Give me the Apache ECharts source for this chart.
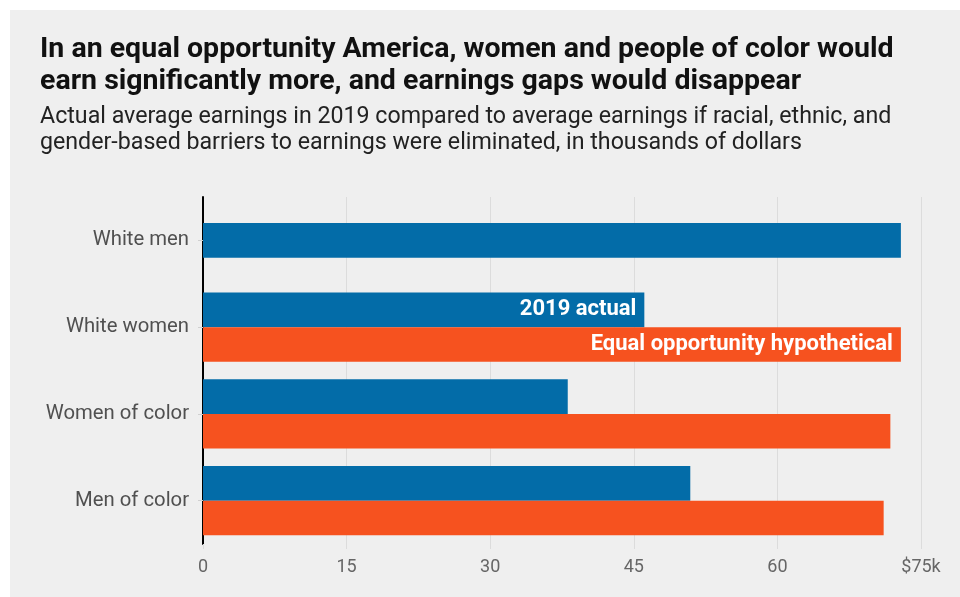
<!DOCTYPE html>
<html>
<head>
<meta charset="utf-8">
<script src="https://cdn.jsdelivr.net/npm/echarts@6/dist/echarts.min.js"></script>
<style>
  html, body { margin: 0; padding: 0; background: #ffffff; overflow: hidden; }
  #chart { position: absolute; left: 10px; top: 10px; width: 950px; height: 587px; background: #efefef; }
</style>
</head>
<body>
<div id="chart"></div>
<script>
// Average earnings, thousands of dollars
const categories = ['White men', 'White women', 'Women of color', 'Men of color'];
const actual2019 = [72.9, 46.1, 38.1, 50.9];
const equalOpportunity = [null, 72.9, 71.8, 71.1];
const xTicks = [0, 15, 30, 45, 60, 75];

const BLUE = '#036ca8';
const ORANGE = '#f6521f';
const FONT = 'Roboto, "Noto Sans", sans-serif';

// Groups without a hypothetical value get one centred bar on an overlay axis
const pairedActual = actual2019.map((v, i) => equalOpportunity[i] == null ? null : v);
const singleActual = actual2019.map((v, i) => equalOpportunity[i] == null ? v : null);
const labelIndex = 1; // in-bar legend labels sit on the White women pair

const chart = echarts.init(document.getElementById('chart'));

function withLabel(values, text) {
  return values.map((v, i) => {
    if (i !== labelIndex || v == null) return v;
    return {
      value: v,
      label: {
        show: true, position: 'insideRight', distance: 8,
        formatter: text, color: '#ffffff', fontFamily: FONT,
        fontWeight: 'bold', fontSize: 22
      }
    };
  });
}

chart.setOption({
  animation: false,
  title: [
    {
      text: 'In an equal opportunity America, women and people of color would\nearn significantly more, and earnings gaps would disappear',
      left: 25, top: 19,
      textStyle: { fontFamily: FONT, fontWeight: 'bold', fontSize: 28.5, lineHeight: 32, color: '#111111' }
    },
    {
      text: 'Actual average earnings in 2019 compared to average earnings if racial, ethnic, and\ngender-based barriers to earnings were eliminated, in thousands of dollars',
      left: 25, top: 89,
      textStyle: { fontFamily: FONT, fontWeight: 'normal', fontSize: 23.2, lineHeight: 26, color: '#222222' }
    }
  ],
  grid: { left: 193, right: 39, top: 187, height: 347, containLabel: false },
  xAxis: {
    type: 'value', min: xTicks[0], max: xTicks[xTicks.length - 1], interval: 15,
    axisLine: { show: false },
    axisTick: { show: true, length: 5, lineStyle: { color: '#dcdcdc' } },
    splitLine: { show: true, lineStyle: { color: '#dcdcdc', width: 1 } },
    axisLabel: {
      margin: 14, color: '#666666', fontFamily: FONT, fontSize: 18,
      formatter: v => v === xTicks[xTicks.length - 1] ? '$' + v + 'k' : String(v)
    }
  },
  yAxis: [
    {
      type: 'category', data: categories, inverse: true,
      axisLine: { show: true, lineStyle: { color: '#000000', width: 2 } },
      axisTick: { show: true, alignWithLabel: true, length: 5, lineStyle: { color: '#d0d0d0' } },
      axisLabel: { margin: 14, color: '#505050', fontFamily: FONT, fontSize: 20.3 }
    },
    {
      type: 'category', data: categories, inverse: true, position: 'left',
      axisLine: { show: false }, axisTick: { show: false }, axisLabel: { show: false }
    }
  ],
  series: [
    {
      name: '2019 actual', type: 'bar', yAxisIndex: 0,
      data: withLabel(pairedActual, '2019 actual'),
      itemStyle: { color: BLUE },
      barGap: '0%', barCategoryGap: '20%'
    },
    {
      name: 'Equal opportunity hypothetical', type: 'bar', yAxisIndex: 0,
      data: withLabel(equalOpportunity, 'Equal opportunity hypothetical'),
      itemStyle: { color: ORANGE },
      barGap: '0%', barCategoryGap: '20%'
    },
    {
      name: '2019 actual', type: 'bar', yAxisIndex: 1,
      data: singleActual,
      itemStyle: { color: BLUE },
      barWidth: '40%'
    }
  ]
});
</script>
</body>
</html>
